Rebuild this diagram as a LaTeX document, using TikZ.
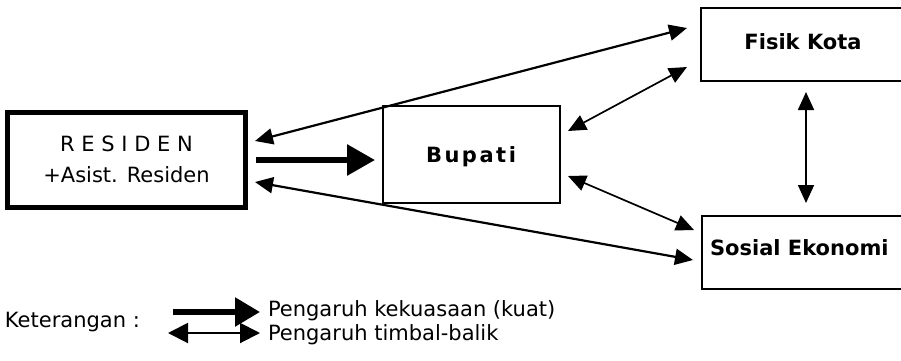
\documentclass[tikz,border=0pt]{standalone}
\usepackage{fontspec}
\setmainfont{DejaVu Sans}
\usetikzlibrary{arrows.meta,calc}
\begin{document}
\begin{tikzpicture}[x=1pt,y=-1pt,
  every node/.style={outer sep=0pt, inner sep=0pt, font=\fontsize{21}{25}\selectfont},
  box/.style={draw, line width=1.5pt, align=center},
  bigbox/.style={draw, line width=5pt, align=center},
  boldtext/.style={font=\fontsize{21}{25}\selectfont\bfseries},
  mutual/.style={{Triangle[length=18pt,width=16pt]}-{Triangle[length=18pt,width=16pt]}, line width=1.7pt},
  mutualw/.style={mutual, line width=2.2pt},
  power/.style={-{Triangle[length=28pt,width=30pt]}, line width=6pt},
  legtext/.style={anchor=west}]
  \useasboundingbox (0,0) rectangle (901,360);

  % boxes
  \node[bigbox, minimum width=238pt, minimum height=95pt] (res) at (126.5,159.5)
    {R E S I D E N\\[6pt]+Asist. Residen};
  \node[box, minimum width=177pt, minimum height=97pt] (bup) at (471.5,154.5) {};
  \node[font=\fontsize{21}{25}\selectfont\bfseries\addfontfeature{LetterSpace=12}] (bupt) at (471,157) {Bupati};
  \node[box, minimum width=204pt, minimum height=73pt] (fis) at (803,44.5) {};
  \node[boldtext] (fist) at (803,42) {Fisik Kota};
  \node[box, minimum width=203pt, minimum height=73pt] (sos) at (803.5,252.5) {};
  \node[boldtext, anchor=west] (sost) at (710,248) {Sosial Ekonomi};

  % connectors
  \draw[mutualw] ($(res.east)+(9.5,-18.5)$) -- ($(fis.west)+(-14,-16.5)$);
  \draw[mutualw] ($(res.east)+(9.5,22.5)$) -- ($(sos.west)+(-9,7.5)$);
  \draw[power] ($(res.east)+(10.5,0.5)$) -- ($(bup.west)+(-8,5.5)$);
  \draw[mutual] ($(bup.east)+(8,-23.5)$) -- ($(fis.west)+(-14,22.5)$);
  \draw[mutual] ($(bup.east)+(8,21.5)$) -- ($(sos.west)+(-8,-22.5)$);
  \draw[mutual] ($(fis.south)+(3,11)$) -- ($(sos.north)+(2.5,-13)$);

  % legend
  \node[anchor=west] (ket) at (5,322) {Keterangan :};
  \node[legtext] (leg1) at (268,311) {Pengaruh kekuasaan (kuat)};
  \node[legtext] (leg2) at (268,335) {Pengaruh timbal-balik};
  \coordinate (l1s) at (173,312);
  \coordinate (l2s) at (168,333);
  \draw[-{Triangle[length=25pt,width=28pt]}, line width=5.5pt] (l1s) -- ($(leg1.west)+(-8,1)$);
  \draw[{Triangle[length=20pt,width=20pt]}-{Triangle[length=20pt,width=20pt]}, line width=2pt] (l2s) -- ($(leg2.west)+(-8,-2)$);
\end{tikzpicture}
\end{document}
